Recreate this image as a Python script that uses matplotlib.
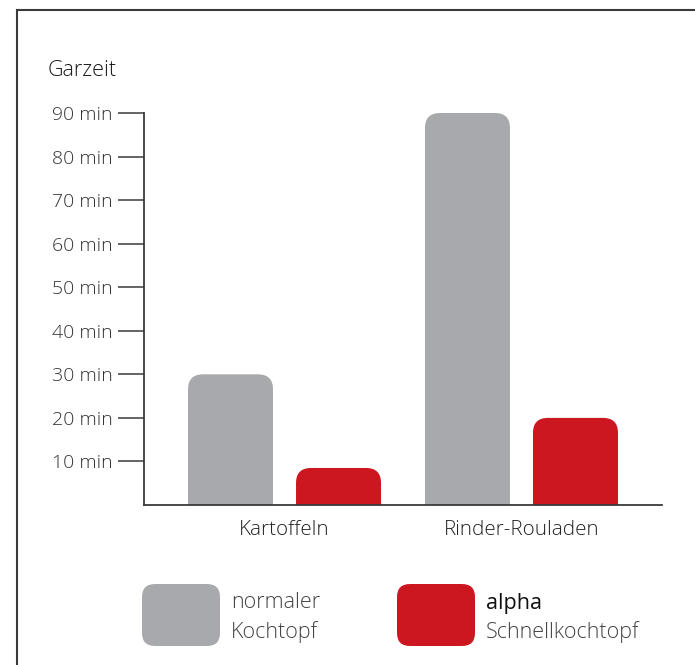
import matplotlib
matplotlib.use("Agg")
import matplotlib.pyplot as plt
from matplotlib.patches import FancyBboxPatch
from matplotlib.lines import Line2D
from matplotlib.transforms import IdentityTransform

# data
categories = ["Kartoffeln", "Rinder-Rouladen"]
normal_minutes = [30, 90]
alpha_minutes = [8.5, 20]
y_ticks = [10, 20, 30, 40, 50, 60, 70, 80, 90]
y_tick_labels = ["%d min" % v for v in y_ticks]
legend_labels = [("normaler", "Kochtopf"), ("alpha", "Schnellkochtopf")]

gray = "#a8a9ac"
red = "#cc1720"
ink = "#3a3a3a"
txt = "#333333"

plt.rcParams["font.family"] = ["Open Sans", "DejaVu Sans"]
LW = "light"

fig = plt.figure(figsize=(6.95, 6.65), dpi=100)
ax = fig.add_axes([144 / 695, 1 - 505 / 665, 518 / 695, 392 / 665])
ax.set_xlim(-0.593, 1.593)
ax.set_ylim(0, 90)

# px per data unit, used to keep corners round
px_x = 518 / (1.593 + 0.593)
px_y = 392 / 90
aspect = px_x / px_y
radius = 15 / px_x

bar_w = 85 / px_x
offset = 54 / px_x
for i, cat in enumerate(categories):
    for val, col, dx in [(normal_minutes[i], gray, -offset), (alpha_minutes[i], red, offset)]:
        x0 = i + dx - bar_w / 2
        p = FancyBboxPatch((x0, -10), bar_w, val + 10,
                           boxstyle="round,pad=0,rounding_size=%f" % radius,
                           mutation_aspect=aspect, facecolor=col,
                           edgecolor="none", zorder=2)
        ax.add_patch(p)

for s in ["top", "right"]:
    ax.spines[s].set_visible(False)
for s in ["left", "bottom"]:
    ax.spines[s].set_color(ink)
    ax.spines[s].set_linewidth(1.3)
    ax.spines[s].set_zorder(3)

ax.set_yticks(y_ticks)
ax.set_yticklabels(y_tick_labels, fontsize=14, color=txt, fontweight=LW)
ax.tick_params(axis="y", length=19, width=1.1, color=ink, pad=3.5)
ax.set_xticks(range(len(categories)))
ax.set_xticklabels(categories, fontsize=14.8, color="#222222", fontweight=LW)
ax.tick_params(axis="x", length=0, pad=10.5)

fig.text(48 / 695, 1 - 70 / 665, "Garzeit", fontsize=15.5, color="#1a1a1a",
         fontweight=LW, va="center", ha="left")

# frame around the graphic, cut off at right and bottom
fig.add_artist(Line2D([17, 17], [0, 655], transform=IdentityTransform(),
                      color=ink, linewidth=1.5))
fig.add_artist(Line2D([17, 695], [655, 655], transform=IdentityTransform(),
                      color=ink, linewidth=1.5))

# legend
for (x_left, col, (l1, l2), bold) in [(142, gray, legend_labels[0], False),
                                      (397, red, legend_labels[1], True)]:
    p = FancyBboxPatch((x_left, 665 - 646), 78, 62,
                       boxstyle="round,pad=0,rounding_size=13",
                       transform=IdentityTransform(), facecolor=col,
                       edgecolor="none")
    fig.add_artist(p)
    fig.text((x_left + 89) / 695, 1 - 603 / 665, l1, fontsize=15.5,
             color="#111111" if bold else "#444444",
             fontweight="normal" if bold else LW, va="center")
    fig.text((x_left + 89) / 695, 1 - 632 / 665, l2, fontsize=15.5,
             color="#444444", fontweight=LW, va="center")

fig.savefig("out.png", dpi=100)
